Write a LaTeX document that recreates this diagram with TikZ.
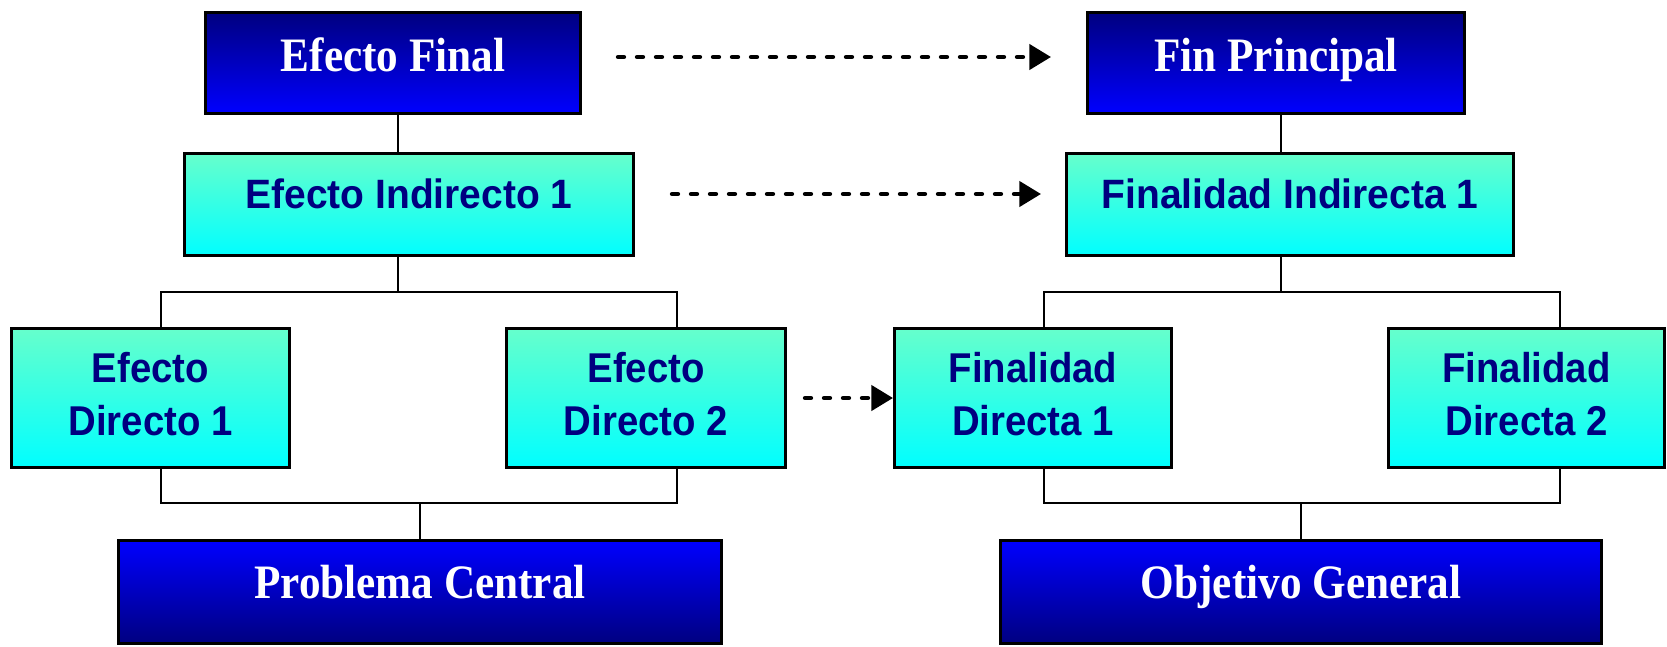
\documentclass[tikz,border=0pt]{standalone}
\usepackage{fontspec}
\usetikzlibrary{arrows.meta,calc}
\newfontfamily\serfont[FakeStretch=0.9]{Liberation Serif}
\newfontfamily\sanfont[FakeStretch=0.95]{Liberation Sans}
\newfontfamily\sanfontn[FakeStretch=0.92]{Liberation Sans}
\definecolor{navy}{RGB}{0,0,128}
\definecolor{brightblue}{RGB}{0,0,255}
\definecolor{mint}{RGB}{102,255,204}
\definecolor{aqua}{RGB}{0,255,255}
\tikzset{
  box/.style={draw=black, line width=1.8pt, rectangle, inner sep=0pt},
  darkbox/.style={box, text=white, font=\serfont\bfseries\fontsize{28.8}{32}\selectfont},
  topdark/.style={darkbox, top color=navy, bottom color=brightblue, text height=18.4pt, text depth=8pt},
  botdark/.style={darkbox, top color=brightblue, bottom color=navy, text height=16pt, text depth=8pt},
  lightbox/.style={box, top color=mint, bottom color=aqua, text=navy},
  indbox/.style={lightbox, font=\sanfont\bfseries\fontsize{24.6}{30}\selectfont, text height=12.2pt, text depth=8pt},
  dirbox/.style={lightbox, align=center, text depth=5pt, font=\sanfontn\bfseries\fontsize{25}{31.8}\selectfont},
  conn/.style={line width=1.2pt, black},
  flow/.style={line width=2.6pt, line cap=round, dash pattern=on 3.6pt off 7.8pt, -{Triangle[length=13pt,width=15pt]}}
}
\begin{document}
\begin{tikzpicture}[x=0.6pt,y=-0.6pt]
\useasboundingbox (0,0) rectangle (1667,646);
% boxes
\node[topdark, minimum width=225pt, minimum height=60.6pt] (ef) at (393,63) {Efecto Final};
\node[topdark, minimum width=226.2pt, minimum height=60.6pt] (fp) at (1276,63) {Fin Principal};
\node[indbox, minimum width=269.4pt, minimum height=61.2pt] (ei) at (409,204.5) {Efecto Indirecto 1};
\node[indbox, minimum width=268.2pt, minimum height=61.2pt] (fi) at (1290,204.5) {Finalidad Indirecta 1};
\node[dirbox, minimum width=166.8pt, minimum height=83.4pt] (ed1) at (150.5,398) {Efecto\\Directo 1};
\node[dirbox, minimum width=167.4pt, minimum height=83.4pt] (ed2) at (646,398) {Efecto\\Directo 2};
\node[dirbox, minimum width=166.2pt, minimum height=83.4pt] (fd1) at (1033,398) {Finalidad\\Directa 1};
\node[dirbox, minimum width=165.6pt, minimum height=83.4pt] (fd2) at (1526.5,398) {Finalidad\\Directa 2};
\node[botdark, minimum width=361.8pt, minimum height=61.8pt] (pc) at (420,592) {Problema Central};
\node[botdark, minimum width=360.6pt, minimum height=61.8pt] (og) at (1301,592) {Objetivo General};
% bus levels
\coordinate (yT) at (0,292);
\coordinate (yB) at (0,503);
% left tree
\coordinate (a1) at ($(ef.south)+(5,0)$);
\draw[conn] (a1) -- (a1 |- ei.north);
\draw[conn] (a1 |- ei.south) -- (a1 |- yT);
\coordinate (d1) at ($(ed1.north)+(10.5,0)$);
\coordinate (d2) at ($(ed2.north)+(31,0)$);
\draw[conn] (d1) -- (d1 |- yT) -- (d2 |- yT) -- (d2);
\draw[conn] (d1 |- ed1.south) -- (d1 |- yB) -- (d2 |- yB) -- (d2 |- ed2.south);
\draw[conn] (pc.north) -- (pc.north |- yB);
% right tree
\coordinate (b1) at ($(fp.south)+(4.5,0)$);
\draw[conn] (b1) -- (b1 |- fi.north);
\draw[conn] (b1 |- fi.south) -- (b1 |- yT);
\coordinate (f1) at ($(fd1.north)+(11,0)$);
\coordinate (f2) at ($(fd2.north)+(33.5,0)$);
\draw[conn] (f1) -- (f1 |- yT) -- (f2 |- yT) -- (f2);
\draw[conn] (f1 |- fd1.south) -- (f1 |- yB) -- (f2 |- yB) -- (f2 |- fd2.south);
\draw[conn] (og.north) -- (og.north |- yB);
% dashed arrows
\draw[flow] ($(ef.east)+(36,-6)$) -- ($(fp.west)+(-35,-6)$);
\draw[flow] ($(ei.east)+(37,-10.5)$) -- ($(fi.west)+(-24,-10.5)$);
\draw[flow] ($(ed2.east)+(18,0)$) -- (fd1.west);
\end{tikzpicture}
\end{document}
